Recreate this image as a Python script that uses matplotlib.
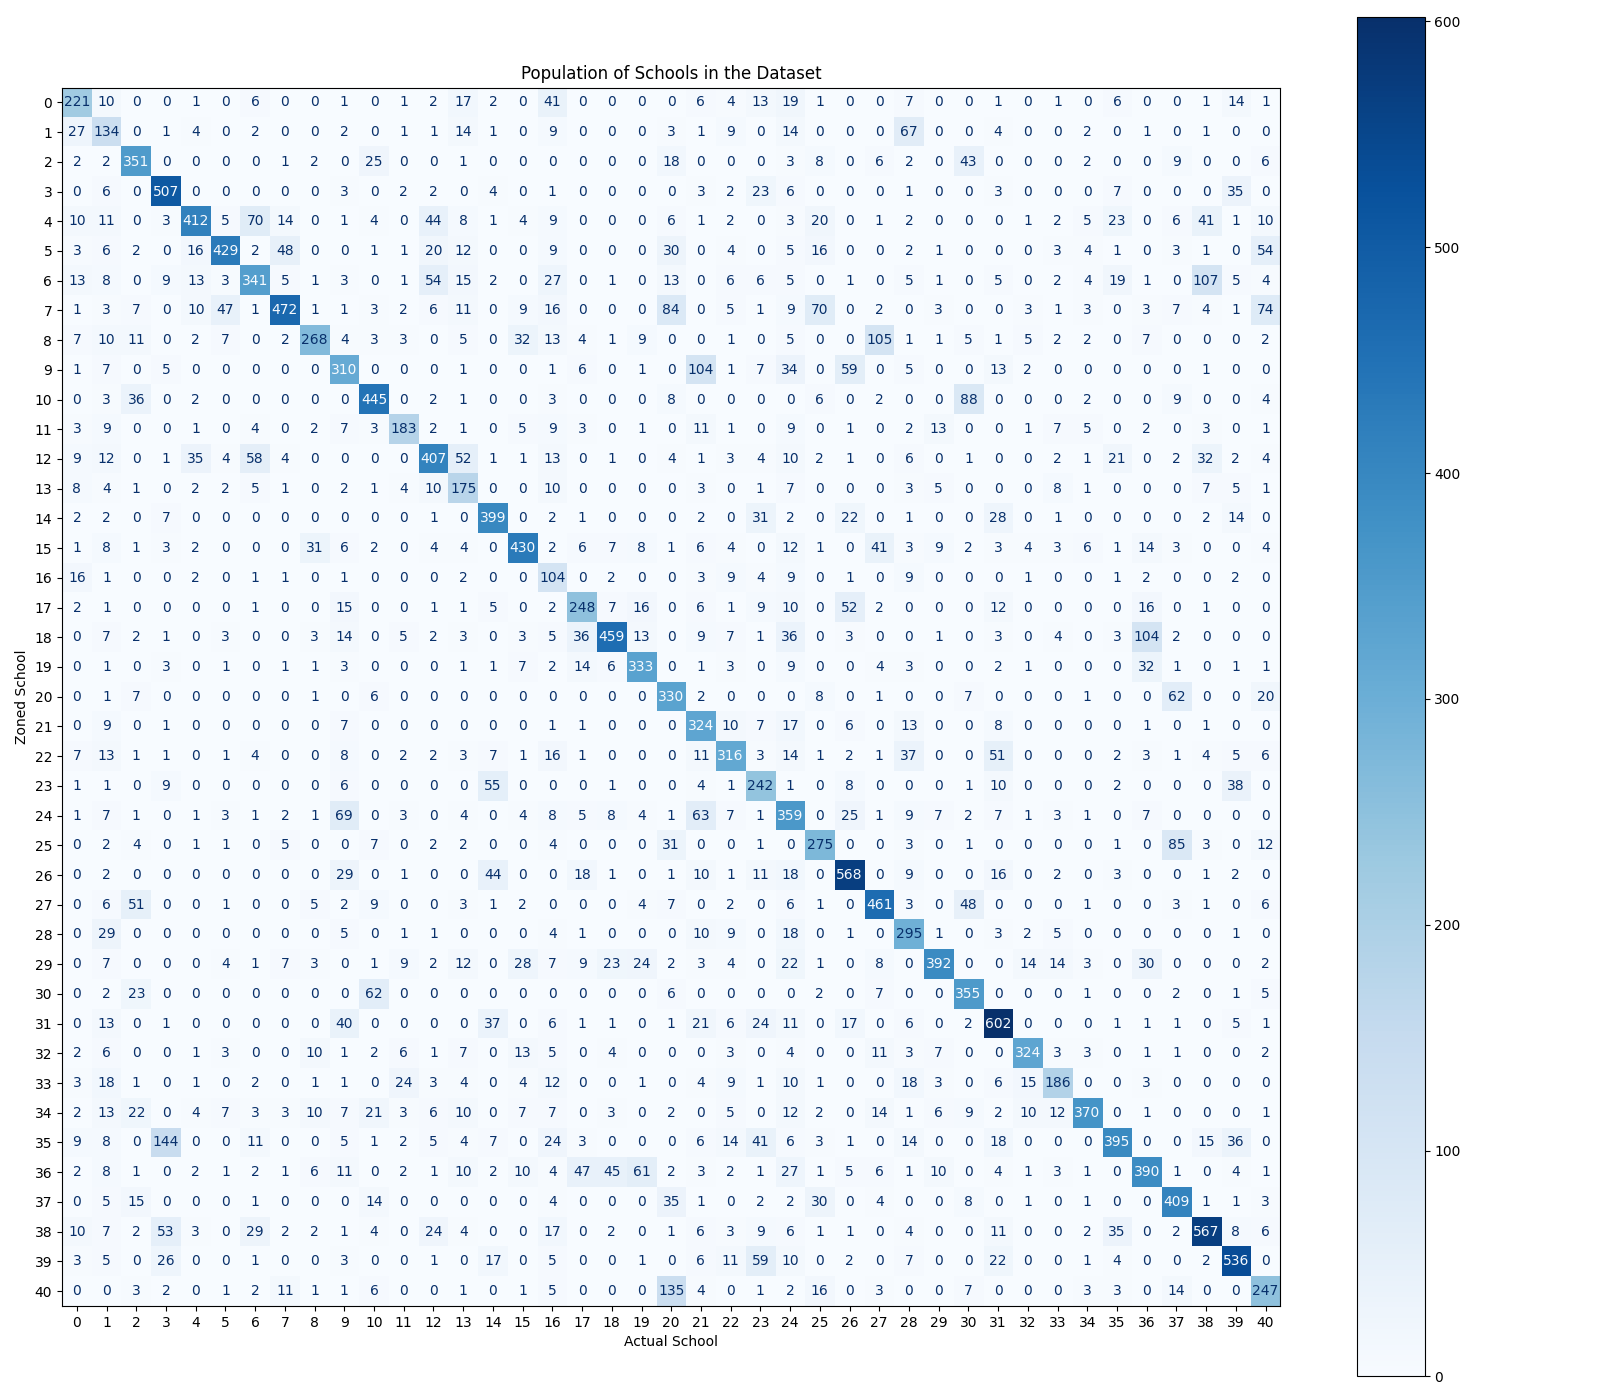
import numpy as np
import matplotlib
matplotlib.use('Agg')
from matplotlib import pyplot as plt

# Confusion matrix of zoned vs actual school (rows = zoned, cols = actual)
row_00 = [221, 10, 0, 0, 1, 0, 6, 0, 0, 1, 0, 1, 2, 17, 2, 0, 41, 0, 0, 0, 0, 6, 4, 13, 19, 1, 0, 0, 7, 0, 0, 1, 0, 1, 0, 6, 0, 0, 1, 14, 1]
row_01 = [27, 134, 0, 1, 4, 0, 2, 0, 0, 2, 0, 1, 1, 14, 1, 0, 9, 0, 0, 0, 3, 1, 9, 0, 14, 0, 0, 0, 67, 0, 0, 4, 0, 0, 2, 0, 1, 0, 1, 0, 0]
row_02 = [2, 2, 351, 0, 0, 0, 0, 1, 2, 0, 25, 0, 0, 1, 0, 0, 0, 0, 0, 0, 18, 0, 0, 0, 3, 8, 0, 6, 2, 0, 43, 0, 0, 0, 2, 0, 0, 9, 0, 0, 6]
row_03 = [0, 6, 0, 507, 0, 0, 0, 0, 0, 3, 0, 2, 2, 0, 4, 0, 1, 0, 0, 0, 0, 3, 2, 23, 6, 0, 0, 0, 1, 0, 0, 3, 0, 0, 0, 7, 0, 0, 0, 35, 0]
row_04 = [10, 11, 0, 3, 412, 5, 70, 14, 0, 1, 4, 0, 44, 8, 1, 4, 9, 0, 0, 0, 6, 1, 2, 0, 3, 20, 0, 1, 2, 0, 0, 0, 1, 2, 5, 23, 0, 6, 41, 1, 10]
row_05 = [3, 6, 2, 0, 16, 429, 2, 48, 0, 0, 1, 1, 20, 12, 0, 0, 9, 0, 0, 0, 30, 0, 4, 0, 5, 16, 0, 0, 2, 1, 0, 0, 0, 3, 4, 1, 0, 3, 1, 0, 54]
row_06 = [13, 8, 0, 9, 13, 3, 341, 5, 1, 3, 0, 1, 54, 15, 2, 0, 27, 0, 1, 0, 13, 0, 6, 6, 5, 0, 1, 0, 5, 1, 0, 5, 0, 2, 4, 19, 1, 0, 107, 5, 4]
row_07 = [1, 3, 7, 0, 10, 47, 1, 472, 1, 1, 3, 2, 6, 11, 0, 9, 16, 0, 0, 0, 84, 0, 5, 1, 9, 70, 0, 2, 0, 3, 0, 0, 3, 1, 3, 0, 3, 7, 4, 1, 74]
row_08 = [7, 10, 11, 0, 2, 7, 0, 2, 268, 4, 3, 3, 0, 5, 0, 32, 13, 4, 1, 9, 0, 0, 1, 0, 5, 0, 0, 105, 1, 1, 5, 1, 5, 2, 2, 0, 7, 0, 0, 0, 2]
row_09 = [1, 7, 0, 5, 0, 0, 0, 0, 0, 310, 0, 0, 0, 1, 0, 0, 1, 6, 0, 1, 0, 104, 1, 7, 34, 0, 59, 0, 5, 0, 0, 13, 2, 0, 0, 0, 0, 0, 1, 0, 0]
row_10 = [0, 3, 36, 0, 2, 0, 0, 0, 0, 0, 445, 0, 2, 1, 0, 0, 3, 0, 0, 0, 8, 0, 0, 0, 0, 6, 0, 2, 0, 0, 88, 0, 0, 0, 2, 0, 0, 9, 0, 0, 4]
row_11 = [3, 9, 0, 0, 1, 0, 4, 0, 2, 7, 3, 183, 2, 1, 0, 5, 9, 3, 0, 1, 0, 11, 1, 0, 9, 0, 1, 0, 2, 13, 0, 0, 1, 7, 5, 0, 2, 0, 3, 0, 1]
row_12 = [9, 12, 0, 1, 35, 4, 58, 4, 0, 0, 0, 0, 407, 52, 1, 1, 13, 0, 1, 0, 4, 1, 3, 4, 10, 2, 1, 0, 6, 0, 1, 0, 0, 2, 1, 21, 0, 2, 32, 2, 4]
row_13 = [8, 4, 1, 0, 2, 2, 5, 1, 0, 2, 1, 4, 10, 175, 0, 0, 10, 0, 0, 0, 0, 3, 0, 1, 7, 0, 0, 0, 3, 5, 0, 0, 0, 8, 1, 0, 0, 0, 7, 5, 1]
row_14 = [2, 2, 0, 7, 0, 0, 0, 0, 0, 0, 0, 0, 1, 0, 399, 0, 2, 1, 0, 0, 0, 2, 0, 31, 2, 0, 22, 0, 1, 0, 0, 28, 0, 1, 0, 0, 0, 0, 2, 14, 0]
row_15 = [1, 8, 1, 3, 2, 0, 0, 0, 31, 6, 2, 0, 4, 4, 0, 430, 2, 6, 7, 8, 1, 6, 4, 0, 12, 1, 0, 41, 3, 9, 2, 3, 4, 3, 6, 1, 14, 3, 0, 0, 4]
row_16 = [16, 1, 0, 0, 2, 0, 1, 1, 0, 1, 0, 0, 0, 2, 0, 0, 104, 0, 2, 0, 0, 3, 9, 4, 9, 0, 1, 0, 9, 0, 0, 0, 1, 0, 0, 1, 2, 0, 0, 2, 0]
row_17 = [2, 1, 0, 0, 0, 0, 1, 0, 0, 15, 0, 0, 1, 1, 5, 0, 2, 248, 7, 16, 0, 6, 1, 9, 10, 0, 52, 2, 0, 0, 0, 12, 0, 0, 0, 0, 16, 0, 1, 0, 0]
row_18 = [0, 7, 2, 1, 0, 3, 0, 0, 3, 14, 0, 5, 2, 3, 0, 3, 5, 36, 459, 13, 0, 9, 7, 1, 36, 0, 3, 0, 0, 1, 0, 3, 0, 4, 0, 3, 104, 2, 0, 0, 0]
row_19 = [0, 1, 0, 3, 0, 1, 0, 1, 1, 3, 0, 0, 0, 1, 1, 7, 2, 14, 6, 333, 0, 1, 3, 0, 9, 0, 0, 4, 3, 0, 0, 2, 1, 0, 0, 0, 32, 1, 0, 1, 1]
row_20 = [0, 1, 7, 0, 0, 0, 0, 0, 1, 0, 6, 0, 0, 0, 0, 0, 0, 0, 0, 0, 330, 2, 0, 0, 0, 8, 0, 1, 0, 0, 7, 0, 0, 0, 1, 0, 0, 62, 0, 0, 20]
row_21 = [0, 9, 0, 1, 0, 0, 0, 0, 0, 7, 0, 0, 0, 0, 0, 0, 1, 1, 0, 0, 0, 324, 10, 7, 17, 0, 6, 0, 13, 0, 0, 8, 0, 0, 0, 0, 1, 0, 1, 0, 0]
row_22 = [7, 13, 1, 1, 0, 1, 4, 0, 0, 8, 0, 2, 2, 3, 7, 1, 16, 1, 0, 0, 0, 11, 316, 3, 14, 1, 2, 1, 37, 0, 0, 51, 0, 0, 0, 2, 3, 1, 4, 5, 6]
row_23 = [1, 1, 0, 9, 0, 0, 0, 0, 0, 6, 0, 0, 0, 0, 55, 0, 0, 0, 1, 0, 0, 4, 1, 242, 1, 0, 8, 0, 0, 0, 1, 10, 0, 0, 0, 2, 0, 0, 0, 38, 0]
row_24 = [1, 7, 1, 0, 1, 3, 1, 2, 1, 69, 0, 3, 0, 4, 0, 4, 8, 5, 8, 4, 1, 63, 7, 1, 359, 0, 25, 1, 9, 7, 2, 7, 1, 3, 1, 0, 7, 0, 0, 0, 0]
row_25 = [0, 2, 4, 0, 1, 1, 0, 5, 0, 0, 7, 0, 2, 2, 0, 0, 4, 0, 0, 0, 31, 0, 0, 1, 0, 275, 0, 0, 3, 0, 1, 0, 0, 0, 0, 1, 0, 85, 3, 0, 12]
row_26 = [0, 2, 0, 0, 0, 0, 0, 0, 0, 29, 0, 1, 0, 0, 44, 0, 0, 18, 1, 0, 1, 10, 1, 11, 18, 0, 568, 0, 9, 0, 0, 16, 0, 2, 0, 3, 0, 0, 1, 2, 0]
row_27 = [0, 6, 51, 0, 0, 1, 0, 0, 5, 2, 9, 0, 0, 3, 1, 2, 0, 0, 0, 4, 7, 0, 2, 0, 6, 1, 0, 461, 3, 0, 48, 0, 0, 0, 1, 0, 0, 3, 1, 0, 6]
row_28 = [0, 29, 0, 0, 0, 0, 0, 0, 0, 5, 0, 1, 1, 0, 0, 0, 4, 1, 0, 0, 0, 10, 9, 0, 18, 0, 1, 0, 295, 1, 0, 3, 2, 5, 0, 0, 0, 0, 0, 1, 0]
row_29 = [0, 7, 0, 0, 0, 4, 1, 7, 3, 0, 1, 9, 2, 12, 0, 28, 7, 9, 23, 24, 2, 3, 4, 0, 22, 1, 0, 8, 0, 392, 0, 0, 14, 14, 3, 0, 30, 0, 0, 0, 2]
row_30 = [0, 2, 23, 0, 0, 0, 0, 0, 0, 0, 62, 0, 0, 0, 0, 0, 0, 0, 0, 0, 6, 0, 0, 0, 0, 2, 0, 7, 0, 0, 355, 0, 0, 0, 1, 0, 0, 2, 0, 1, 5]
row_31 = [0, 13, 0, 1, 0, 0, 0, 0, 0, 40, 0, 0, 0, 0, 37, 0, 6, 1, 1, 0, 1, 21, 6, 24, 11, 0, 17, 0, 6, 0, 2, 602, 0, 0, 0, 1, 1, 1, 0, 5, 1]
row_32 = [2, 6, 0, 0, 1, 3, 0, 0, 10, 1, 2, 6, 1, 7, 0, 13, 5, 0, 4, 0, 0, 0, 3, 0, 4, 0, 0, 11, 3, 7, 0, 0, 324, 3, 3, 0, 1, 1, 0, 0, 2]
row_33 = [3, 18, 1, 0, 1, 0, 2, 0, 1, 1, 0, 24, 3, 4, 0, 4, 12, 0, 0, 1, 0, 4, 9, 1, 10, 1, 0, 0, 18, 3, 0, 6, 15, 186, 0, 0, 3, 0, 0, 0, 0]
row_34 = [2, 13, 22, 0, 4, 7, 3, 3, 10, 7, 21, 3, 6, 10, 0, 7, 7, 0, 3, 0, 2, 0, 5, 0, 12, 2, 0, 14, 1, 6, 9, 2, 10, 12, 370, 0, 1, 0, 0, 0, 1]
row_35 = [9, 8, 0, 144, 0, 0, 11, 0, 0, 5, 1, 2, 5, 4, 7, 0, 24, 3, 0, 0, 0, 6, 14, 41, 6, 3, 1, 0, 14, 0, 0, 18, 0, 0, 0, 395, 0, 0, 15, 36, 0]
row_36 = [2, 8, 1, 0, 2, 1, 2, 1, 6, 11, 0, 2, 1, 10, 2, 10, 4, 47, 45, 61, 2, 3, 2, 1, 27, 1, 5, 6, 1, 10, 0, 4, 1, 3, 1, 0, 390, 1, 0, 4, 1]
row_37 = [0, 5, 15, 0, 0, 0, 1, 0, 0, 0, 14, 0, 0, 0, 0, 0, 4, 0, 0, 0, 35, 1, 0, 2, 2, 30, 0, 4, 0, 0, 8, 0, 1, 0, 1, 0, 0, 409, 1, 1, 3]
row_38 = [10, 7, 2, 53, 3, 0, 29, 2, 2, 1, 4, 0, 24, 4, 0, 0, 17, 0, 2, 0, 1, 6, 3, 9, 6, 1, 1, 0, 4, 0, 0, 11, 0, 0, 2, 35, 0, 2, 567, 8, 6]
row_39 = [3, 5, 0, 26, 0, 0, 1, 0, 0, 3, 0, 0, 1, 0, 17, 0, 5, 0, 0, 1, 0, 6, 11, 59, 10, 0, 2, 0, 7, 0, 0, 22, 0, 0, 1, 4, 0, 0, 2, 536, 0]
row_40 = [0, 0, 3, 2, 0, 1, 2, 11, 1, 1, 6, 0, 0, 1, 0, 1, 5, 0, 0, 0, 135, 4, 0, 1, 2, 16, 0, 3, 0, 0, 7, 0, 0, 0, 3, 3, 0, 14, 0, 0, 247]

schools = list(range(41))

cm = np.array([row_00, row_01, row_02, row_03, row_04, row_05, row_06, row_07, row_08, row_09,
               row_10, row_11, row_12, row_13, row_14, row_15, row_16, row_17, row_18, row_19,
               row_20, row_21, row_22, row_23, row_24, row_25, row_26, row_27, row_28, row_29,
               row_30, row_31, row_32, row_33, row_34, row_35, row_36, row_37, row_38, row_39,
               row_40])

fig, ax = plt.subplots(figsize=(16, 14), dpi=100)
cmap = plt.get_cmap('Blues')
im = ax.imshow(cm, interpolation='nearest', cmap=cmap)

# dark text on light cells, light text on dark cells (threshold at mid range)
thresh = (cm.max() + cm.min()) / 2.0
for i in range(cm.shape[0]):
    for j in range(cm.shape[1]):
        color = cmap(0) if cm[i, j] >= thresh else cmap(1.0)
        ax.text(j, i, format(cm[i, j], 'd'), ha='center', va='center', color=color)

fig.colorbar(im, ax=ax)
ax.set_xticks(np.arange(len(schools)))
ax.set_yticks(np.arange(len(schools)))
ax.set_xticklabels(schools)
ax.set_yticklabels(schools)
ax.set_xlabel('Actual School')
ax.set_ylabel('Zoned School')
ax.set_title('Population of Schools in the Dataset')

plt.tight_layout()
plt.savefig('out.png')
